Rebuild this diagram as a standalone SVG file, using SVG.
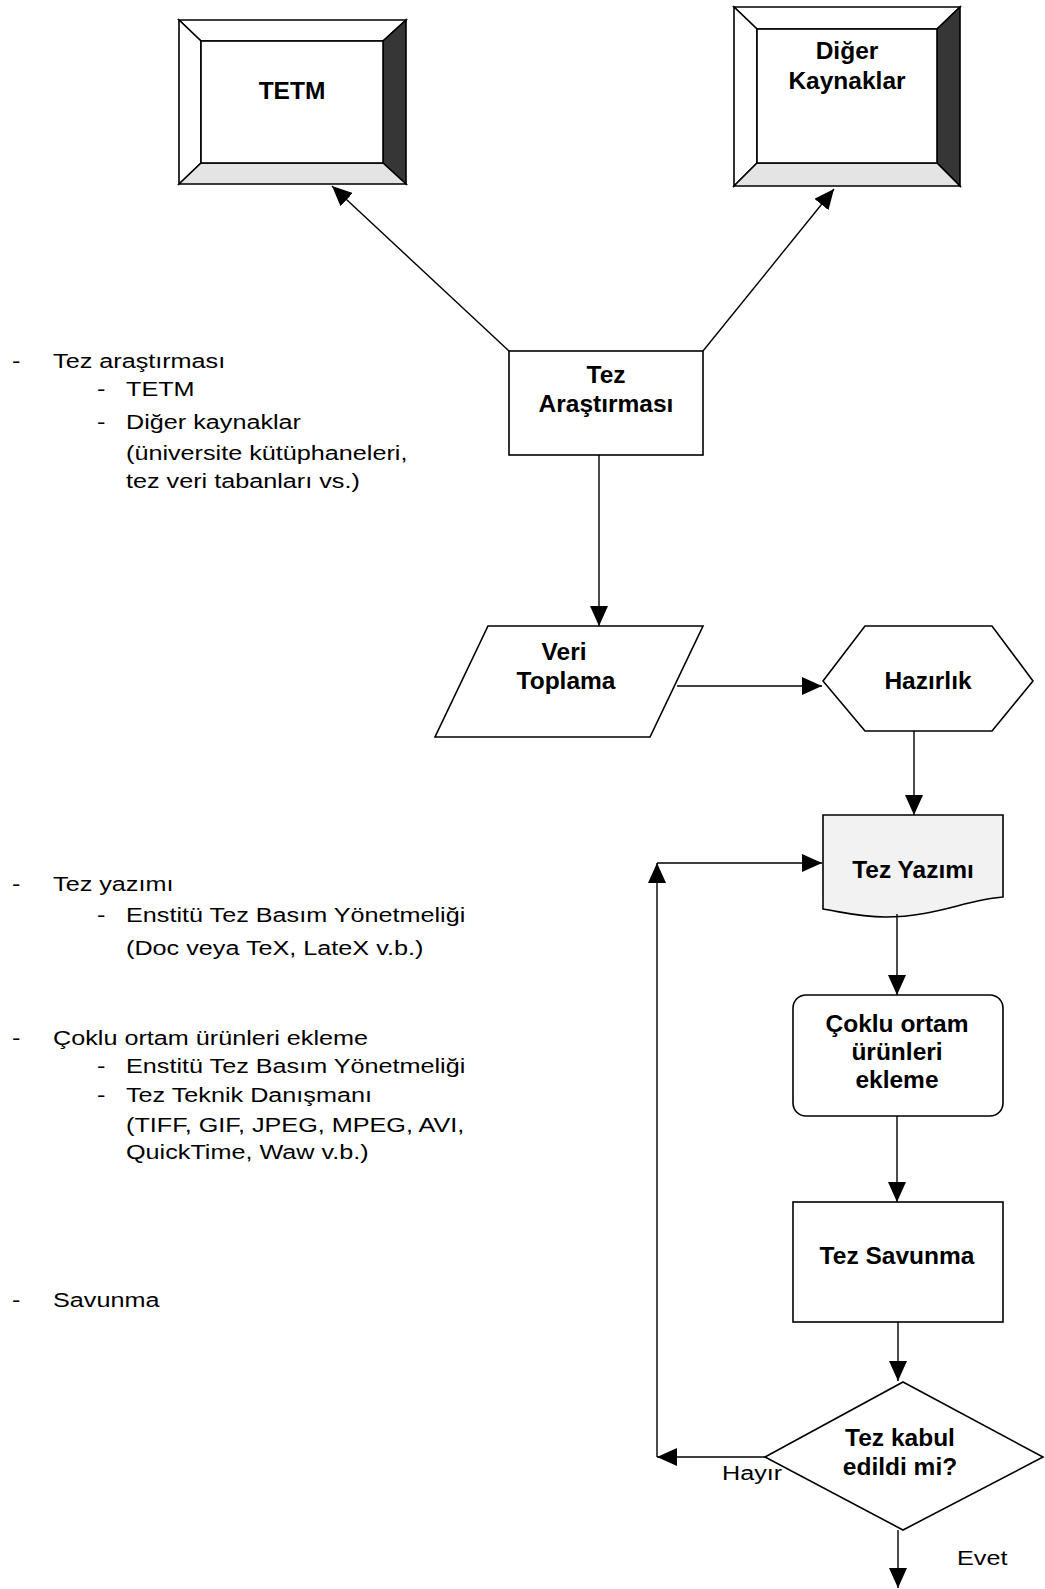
<svg xmlns="http://www.w3.org/2000/svg" width="1045" height="1589" viewBox="0 0 1045 1589">
<defs>
<marker id="ah" markerUnits="userSpaceOnUse" viewBox="0 0 20 18" refX="20" refY="9" markerWidth="20" markerHeight="18" orient="auto"><path d="M0,0 L20,9 L0,18 Z" fill="#000"/></marker>
<style>
.s{fill:#fff;stroke:#000;stroke-width:1.6;stroke-linejoin:miter}
.doc{fill:#f2f2f2;stroke:#000;stroke-width:1.6}
.dk{fill:#363636;stroke:#000;stroke-width:1.6}
.lt{fill:#e4e4e4;stroke:#000;stroke-width:1.6}
.b{font-family:"Liberation Sans",Arial,sans-serif;font-weight:bold;font-size:24.5px;text-anchor:middle;fill:#000}
.n{font-family:"Liberation Sans",Arial,sans-serif;font-size:21px;fill:#000}
.c{fill:none;stroke:#000;stroke-width:1.4}
.ca{fill:none;stroke:#000;stroke-width:1.4;marker-end:url(#ah)}
</style>
</defs>
<rect width="1045" height="1589" fill="#fff"/>

<g id="node-tetm">
<polygon class="s" points="179,20 406,20 383,41 201,41"/>
<polygon class="s" points="179,20 201,41 201,163 179,184"/>
<polygon class="dk" points="406,20 406,184 383,163 383,41"/>
<polygon class="lt" points="179,184 201,163 383,163 406,184"/>
<rect class="s" x="201" y="41" width="182" height="122"/>
<text class="b" x="292" y="99">TETM</text>
</g>

<g id="node-diger">
<polygon class="s" points="734,7 960,7 937,29 757,29"/>
<polygon class="s" points="734,7 757,29 757,163 734,186"/>
<polygon class="dk" points="960,7 960,186 937,163 937,29"/>
<polygon class="lt" points="734,186 757,163 937,163 960,186"/>
<rect class="s" x="757" y="29" width="180" height="134"/>
<text class="b" x="847" y="59">Diğer</text>
<text class="b" x="847" y="89">Kaynaklar</text>
</g>

<g id="node-tez-arastirmasi">
<rect class="s" x="509" y="351" width="194" height="104"/>
<text class="b" x="606" y="383">Tez</text>
<text class="b" x="606" y="412">Araştırması</text>
</g>

<g id="node-veri-toplama">
<polygon class="s" points="488,626 703,626 650,737 435,737"/>
<text class="b" x="564" y="660">Veri</text>
<text class="b" x="566" y="689">Toplama</text>
</g>

<g id="node-hazirlik">
<polygon class="s" points="823,681 865,626 992,626 1033,681 992,731 865,731"/>
<text class="b" x="928" y="689">Hazırlık</text>
</g>

<g id="node-tez-yazimi">
<path class="doc" d="M823,815 H1003 V897 C965,900 935,917 885,917 C860,917 842,912 823,909 Z"/>
<text class="b" x="913" y="878">Tez Yazımı</text>
</g>

<g id="node-coklu">
<rect class="s" x="793" y="995" width="210" height="121" rx="13" ry="13"/>
<text class="b" x="897" y="1032">Çoklu ortam</text>
<text class="b" x="897" y="1060">ürünleri</text>
<text class="b" x="897" y="1088">ekleme</text>
</g>

<g id="node-savunma">
<rect class="s" x="793" y="1202" width="210" height="120"/>
<text class="b" x="897" y="1264">Tez Savunma</text>
</g>

<g id="node-karar">
<polygon class="s" points="903,1382 1043,1457 903,1530 765,1457"/>
<text class="b" x="900" y="1446">Tez kabul</text>
<text class="b" x="900" y="1475">edildi mi?</text>
</g>

<g id="connectors">
<line class="ca" x1="509" y1="351" x2="332" y2="186"/>
<line class="ca" x1="703" y1="351" x2="834" y2="189"/>
<line class="ca" x1="599" y1="455" x2="599" y2="626"/>
<line class="ca" x1="677" y1="686" x2="822" y2="686"/>
<line class="ca" x1="914" y1="731" x2="914" y2="815"/>
<line class="ca" x1="897" y1="914" x2="897" y2="995"/>
<line class="ca" x1="897" y1="1116" x2="897" y2="1202"/>
<line class="ca" x1="898" y1="1322" x2="898" y2="1381"/>
<line class="ca" x1="765" y1="1457" x2="657" y2="1457"/>
<line class="ca" x1="657" y1="1457" x2="657" y2="863"/>
<line class="ca" x1="657" y1="863" x2="822" y2="863"/>
<line class="ca" x1="898" y1="1530" x2="898" y2="1588"/>
</g>

<g id="edge-labels" class="n" transform="scale(1.2,1)">
<text x="601.7" y="1480">Hayır</text>
<text x="797.5" y="1565">Evet</text>
</g>

<g id="notes" class="n" transform="scale(1.2,1)">
<text x="10" y="368">-</text><text x="44.2" y="368">Tez araştırması</text>
<text x="80.8" y="396">-</text><text x="105" y="396">TETM</text>
<text x="80.8" y="429">-</text><text x="105" y="429">Diğer kaynaklar</text>
<text x="105" y="460">(üniversite kütüphaneleri,</text>
<text x="105" y="488">tez veri tabanları vs.)</text>

<text x="10" y="891">-</text><text x="44.2" y="891">Tez yazımı</text>
<text x="80.8" y="922">-</text><text x="105" y="922">Enstitü Tez Basım Yönetmeliği</text>
<text x="105" y="955">(Doc veya TeX, LateX v.b.)</text>

<text x="10" y="1045">-</text><text x="44.2" y="1045">Çoklu ortam ürünleri ekleme</text>
<text x="80.8" y="1073">-</text><text x="105" y="1073">Enstitü Tez Basım Yönetmeliği</text>
<text x="80.8" y="1102">-</text><text x="105" y="1102">Tez Teknik Danışmanı</text>
<text x="105" y="1132">(TIFF, GIF, JPEG, MPEG, AVI,</text>
<text x="105" y="1159">QuickTime, Waw v.b.)</text>

<text x="10" y="1307">-</text><text x="44.2" y="1307">Savunma</text>
</g>
</svg>
